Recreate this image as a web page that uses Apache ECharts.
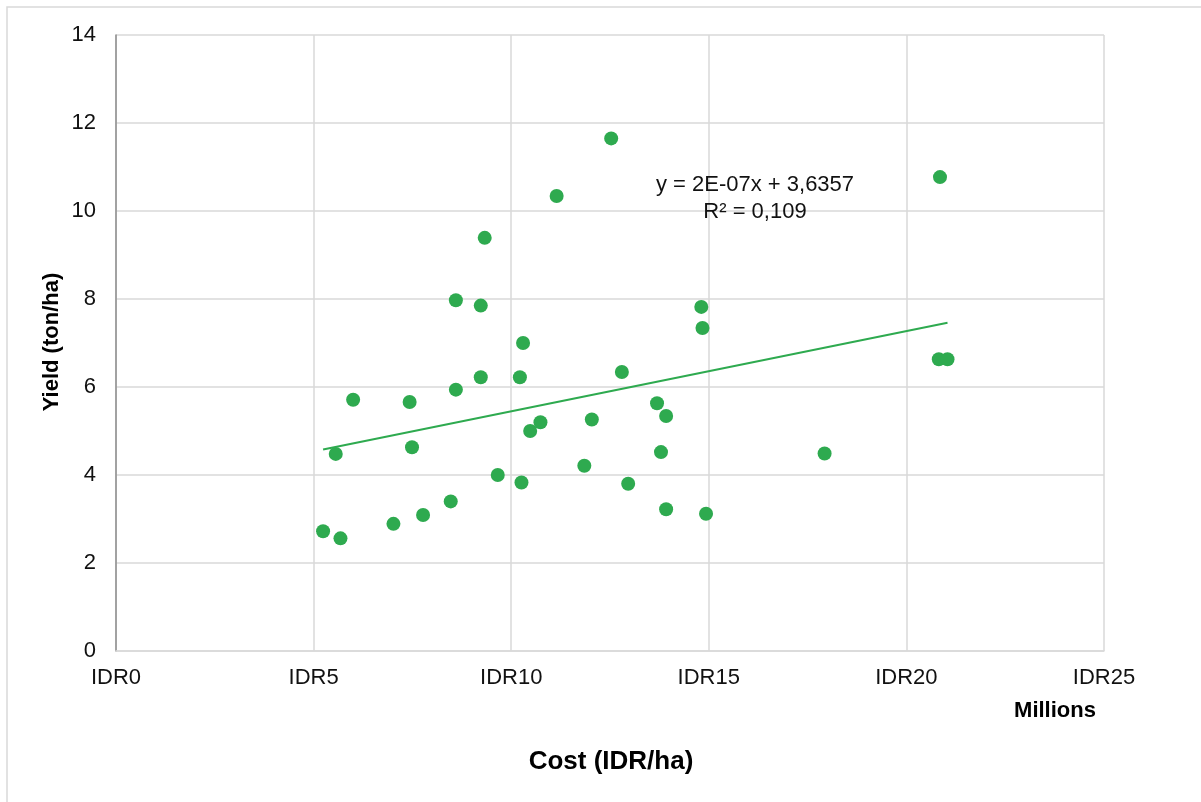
<!DOCTYPE html>
<html>
<head>
<meta charset="utf-8">
<script src="https://cdn.jsdelivr.net/npm/echarts@6/dist/echarts.min.js"></script>
<style>
html,body{margin:0;padding:0;background:#fff;}
#chart{width:1201px;height:802px;}
</style>
</head>
<body>
<div id="chart"></div>
<script>
// Cost (IDR/ha) per observation
const costIDR = [
  5.24e6, 5.56e6, 5.68e6, 6.00e6, 7.02e6, 7.43e6, 7.49e6, 7.77e6,
  8.47e6, 8.60e6, 8.60e6, 9.23e6, 9.23e6, 9.33e6, 9.66e6,
  10.22e6, 10.26e6, 10.30e6, 10.48e6, 10.74e6,
  11.15e6, 11.85e6, 12.04e6, 12.53e6, 12.80e6, 12.96e6,
  13.69e6, 13.79e6, 13.92e6, 13.92e6, 14.81e6, 14.84e6, 14.93e6,
  17.93e6, 20.82e6, 20.85e6, 21.04e6
];
// Yield (ton/ha) per observation
const yieldTon = [
  2.72, 4.48, 2.56, 5.71, 2.89, 5.66, 4.63, 3.09,
  3.40, 7.97, 5.94, 7.85, 6.22, 9.39, 4.00,
  6.22, 3.83, 7.00, 5.00, 5.20,
  10.34, 4.21, 5.26, 11.65, 6.34, 3.80,
  5.63, 4.52, 5.34, 3.22, 7.82, 7.34, 3.12,
  4.49, 6.63, 10.77, 6.63
];
const xTickLabels = ['IDR0', 'IDR5', 'IDR10', 'IDR15', 'IDR20', 'IDR25'];
const yTickLabels = ['0', '2', '4', '6', '8', '10', '12', '14'];
const equationLines = ['y = 2E-07x + 3,6357', 'R\u00B2 = 0,109'];

// Least-squares trend line over the observed range
const n = costIDR.length;
const mx = costIDR.reduce((a, b) => a + b, 0) / n;
const my = yieldTon.reduce((a, b) => a + b, 0) / n;
let sxy = 0, sxx = 0;
for (let i = 0; i < n; i++) {
  sxy += (costIDR[i] - mx) * (yieldTon[i] - my);
  sxx += (costIDR[i] - mx) * (costIDR[i] - mx);
}
const slope = sxy / sxx;
const intercept = my - slope * mx;
const xMin = Math.min(...costIDR), xMax = Math.max(...costIDR);
const trend = [[xMin, intercept + slope * xMin], [xMax, intercept + slope * xMax]];

const points = costIDR.map((c, i) => [c, yieldTon[i]]);
const green = '#2eaa4f';
const font = '"Liberation Sans", Arial, Helvetica, sans-serif';

const chart = echarts.init(document.getElementById('chart'), null, {renderer: 'canvas'});
chart.setOption({
  animation: false,
  backgroundColor: '#fff',
  grid: {left: 116, top: 35, width: 988, height: 616, containLabel: false},
  xAxis: {
    type: 'value', min: 0, max: 25e6, interval: 5e6,
    axisLine: {show: true, lineStyle: {color: '#d9d9d9', width: 1.5}},
    axisTick: {show: false},
    splitLine: {show: true, lineStyle: {color: '#d9d9d9', width: 1.5}},
    axisLabel: {
      margin: 16, fontSize: 22, fontFamily: font, color: '#111',
      formatter: v => xTickLabels[Math.round(v / 5e6)]
    }
  },
  yAxis: {
    type: 'value', min: 0, max: 14, interval: 2,
    axisLine: {show: true, lineStyle: {color: '#8c8c8c', width: 1.5}},
    axisTick: {show: false},
    splitLine: {show: true, lineStyle: {color: '#d9d9d9', width: 1.5}},
    axisLabel: {
      margin: 20, fontSize: 22, fontFamily: font, color: '#111',
      formatter: v => yTickLabels[Math.round(v / 2)]
    }
  },
  series: [
    {
      type: 'line', data: trend, symbol: 'none', z: 2,
      lineStyle: {color: green, width: 2}
    },
    {
      type: 'scatter', data: points, symbol: 'circle', symbolSize: 14, z: 3,
      itemStyle: {color: green, opacity: 1}
    }
  ],
  graphic: [
    {type: 'rect', shape: {x: 7, y: 7, width: 1300, height: 900}, z: -1,
     style: {fill: 'none', stroke: '#d9d9d9', lineWidth: 1.5}, silent: true},
    {type: 'text', x: 755, y: 185, z: 10,
     style: {text: equationLines[0], font: '22px ' + font, fill: '#111', textAlign: 'center', textVerticalAlign: 'middle'}},
    {type: 'text', x: 755, y: 212, z: 10,
     style: {text: equationLines[1], font: '22px ' + font, fill: '#111', textAlign: 'center', textVerticalAlign: 'middle'}},
    {type: 'text', x: 52, y: 342, rotation: Math.PI / 2, z: 10,
     style: {text: 'Yield (ton/ha)', font: 'bold 22px ' + font, fill: '#000', textAlign: 'center', textVerticalAlign: 'middle'}},
    {type: 'text', x: 611, y: 762, z: 10,
     style: {text: 'Cost (IDR/ha)', font: 'bold 26px ' + font, fill: '#000', textAlign: 'center', textVerticalAlign: 'middle'}},
    {type: 'text', x: 1055, y: 711, z: 10,
     style: {text: 'Millions', font: 'bold 22px ' + font, fill: '#000', textAlign: 'center', textVerticalAlign: 'middle'}}
  ]
});
</script>
</body>
</html>
